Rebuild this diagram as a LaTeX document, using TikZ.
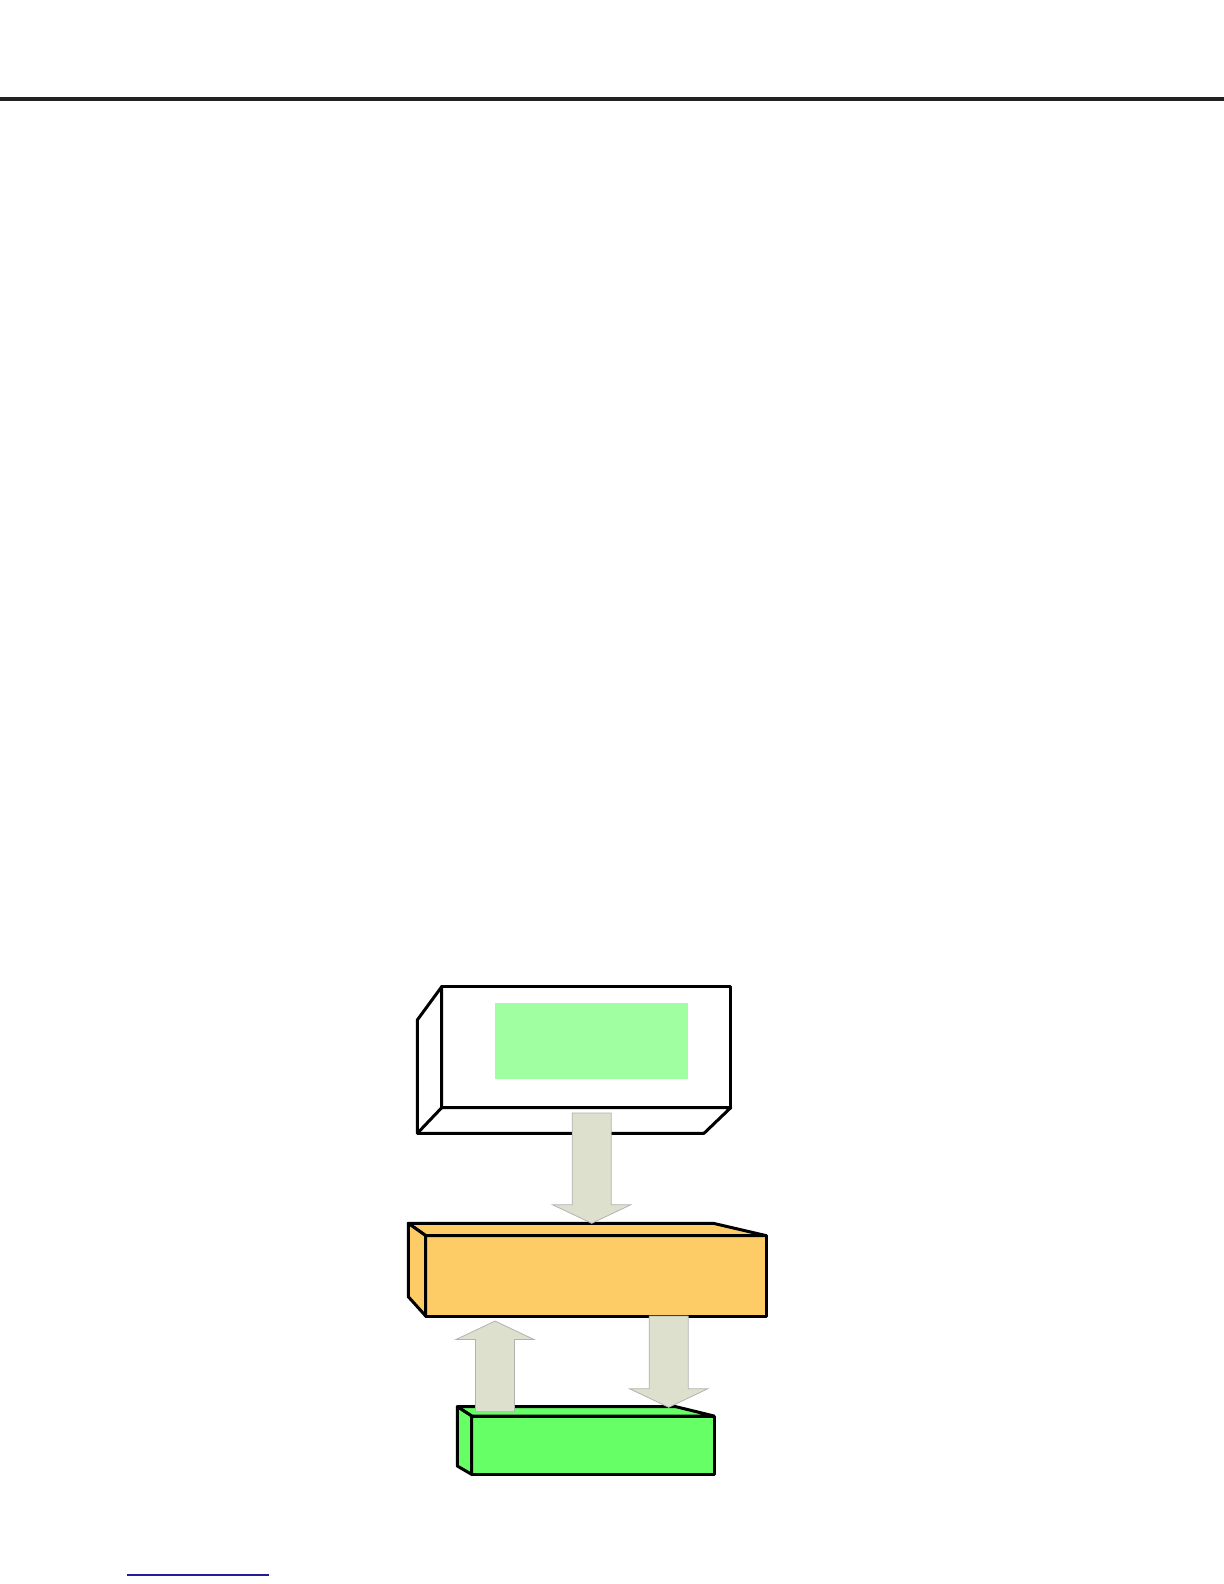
\documentclass[tikz,border=0pt]{standalone}
\usepackage{tikz}
\usetikzlibrary{calc, positioning}

\definecolor{panelgreen}{RGB}{160,255,160}
\definecolor{hubyellow}{RGB}{253,204,102}
\definecolor{basegreen}{RGB}{102,255,102}
\definecolor{flowgray}{RGB}{221,224,205}
\definecolor{rulegray}{RGB}{34,34,34}
\definecolor{linkblue}{RGB}{30,30,150}

% block arrow from tail coordinate to tip coordinate (vertical)
\newcommand{\fatarrow}[2]{%
  \draw[flow] let \p1=(#1), \p2=(#2), \n1={sign(\y1-\y2)} in
    (\x1-9.75pt,\y1) -- (\x1-9.75pt,\y2+9.25pt*\n1) -- (\x1-19.5pt,\y2+9.25pt*\n1)
    -- (\x2,\y2) -- (\x1+19.5pt,\y2+9.25pt*\n1) -- (\x1+9.75pt,\y2+9.25pt*\n1)
    -- (\x1+9.75pt,\y1) -- cycle;}

\begin{document}
\begin{tikzpicture}[x=0.5pt, y=-0.5pt,
        face/.style={draw, line width=1.5pt, line join=round, inner sep=0pt, outer sep=0pt},
        flow/.style={fill=flowgray, draw=gray!60, line width=0.4pt, line join=miter}
    ]
        \useasboundingbox (0,0) rectangle (1224,1584);
        \draw[rulegray, line width=2pt] (0,99) -- (1224,99);

        % top box
        \node[face, fill=white, minimum width=144.5pt, minimum height=60.5pt] (disp) at (586.2,1047.2) {};
        \draw[face, fill=white] (disp.north west) -- (417.3,1020) -- (417.3,1133.3) -- (704,1133.3)
            -- (disp.south east) -- (disp.south west) -- cycle;
        \draw[face] (disp.south west) -- (417.3,1133.3);
        \node[fill=panelgreen, inner sep=0pt, minimum width=96.5pt, minimum height=38pt] (panel) at (591.5,1041) {};

        % middle box
        \node[face, fill=hubyellow, minimum width=170.2pt, minimum height=40.2pt] (hub) at (595.9,1275.8) {};
        \draw[face, fill=hubyellow] (408.3,1223.3) -- (713.3,1223.3) -- (hub.north east) -- (hub.north west) -- cycle;
        \draw[face, fill=hubyellow] (408.3,1223.3) -- (hub.north west) -- (hub.south west) -- (408.3,1296.7) -- cycle;

        % bottom box
        \node[face, fill=basegreen, minimum width=121.2pt, minimum height=29.2pt] (base) at (592.9,1445.2) {};
        \draw[face, fill=basegreen] (457.3,1406.7) -- (676,1406.7) -- (base.north east) -- (base.north west) -- cycle;
        \draw[face, fill=basegreen] (457.3,1406.7) -- (base.north west) -- (base.south west) -- (457.3,1466) -- cycle;

        % arrows
        \coordinate (a1) at (591.7,1113);
        \coordinate (a1t) at (591.7,1223.3);
        \coordinate (a2) at (495,1411.7);
        \coordinate (a2t) at (495,1321);
        \coordinate (a3) at (668.7,1316);
        \coordinate (a3t) at (668.7,1407.3);
        \fatarrow{a1}{a1t}
        \fatarrow{a2}{a2t}
        \fatarrow{a3}{a3t}

        \draw[linkblue, line width=0.85pt] (127,1575) -- (269,1575);
    \end{tikzpicture}
\end{document}
